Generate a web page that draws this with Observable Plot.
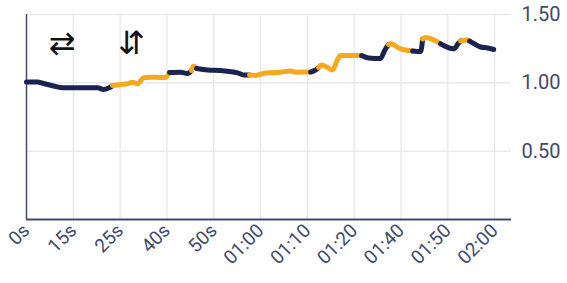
<!DOCTYPE html>
<html>
<head>
<meta charset="utf-8">
<script src="https://cdn.jsdelivr.net/npm/d3@7"></script>
<script src="https://cdn.jsdelivr.net/npm/@observablehq/plot@0.6"></script>
<style>
  html, body { margin: 0; padding: 0; background: #fff; }
  #chart { width: 567px; height: 283px; }
</style>
</head>
<body>
<div id="chart"></div>
<script>
// x positions are in tick-index units (ticks are evenly spaced in the chart)
const tickLabels = ["0s","15s","25s","40s","50s","01:00","01:10","01:20","01:40","01:50","02:00"];
const yTicks = [0.5, 1.0, 1.5];
const icons = ["⇄", "⇵"];
const iconPos = [0.76, 2.24];

// each segment of the price line, alternating colours
const segTimes = [
  [0,0.235,0.363,0.577,0.791,1.154,1.517,1.645,1.752,1.838],
  [1.838,2.009,2.158,2.265,2.372,2.5,2.65,2.863,2.97,3.056],
  [3.056,3.291,3.44,3.526],
  [3.526,3.568,3.632],
  [3.632,3.868,4.145,4.509,4.637,4.765],
  [4.765,4.893,5.107,5.427,5.641,5.748,6.068],
  [6.068,6.154,6.239],
  [6.239,6.303,6.432,6.538,6.645,6.709,7.158],
  [7.158,7.308,7.564,7.65,7.735],
  [7.735,7.778,7.991,8.248],
  [8.248,8.419,8.462],
  [8.462,8.526,8.846],
  [8.846,8.91,9.124,9.231,9.274],
  [9.274,9.423,9.466],
  [9.466,9.573,9.701,9.85,9.979]
];
const segValues = [
  [1.006,1.006,0.995,0.977,0.964,0.964,0.964,0.951,0.962,0.98],
  [0.98,0.988,0.993,1.005,0.993,1.037,1.041,1.039,1.039,1.076],
  [1.076,1.078,1.068,1.09],
  [1.09,1.123,1.105],
  [1.105,1.094,1.09,1.073,1.057,1.057],
  [1.057,1.054,1.072,1.078,1.087,1.078,1.079],
  [1.079,1.09,1.112],
  [1.112,1.13,1.112,1.094,1.171,1.2,1.2],
  [1.2,1.182,1.178,1.237,1.28],
  [1.28,1.286,1.248,1.233],
  [1.233,1.229,1.321],
  [1.321,1.332,1.286],
  [1.286,1.273,1.249,1.291,1.306],
  [1.306,1.313,1.306],
  [1.306,1.284,1.262,1.255,1.244]
];
const segSide = ["a","b","a","b","a","b","a","b","a","b","a","b","a","b","a"];

const NAVY = "#1b2350";
const ORANGE = "#f7a91d";
const AXIS = "#414a6b";

const rows = [];
segTimes.forEach((ts, s) => ts.forEach((t, i) => rows.push({t, v: segValues[s][i], seg: s, side: segSide[s]})));

const chart = Plot.plot({
  width: 567,
  height: 283,
  marginLeft: 26,
  marginRight: 56,
  marginTop: 14,
  marginBottom: 64,
  style: {fontFamily: "Roboto, sans-serif", color: AXIS, background: "#fff"},
  x: {domain: [0, 10.36]},
  y: {domain: [0, 1.5]},
  color: {domain: ["a","b"], range: [NAVY, ORANGE]},
  marks: [
    Plot.gridX(d3.range(1, tickLabels.length), {stroke: "#e4e5ea", strokeOpacity: 1, strokeWidth: 1.2}),
    Plot.gridY(yTicks, {stroke: "#e4e5ea", strokeOpacity: 1, strokeWidth: 1.2}),
    Plot.axisY({anchor: "right", ticks: yTicks, tickFormat: d3.format(".2f"), tickSize: 0, tickPadding: 10, fontSize: 20, label: null, fill: AXIS}),
    Plot.axisX({ticks: d3.range(tickLabels.length), tickFormat: i => tickLabels[i], tickRotate: -45, tickSize: 0, tickPadding: 8, fontSize: 19, label: null, fill: AXIS}),
    Plot.ruleX([0], {stroke: AXIS, strokeWidth: 1.5}),
    Plot.ruleY([0], {stroke: AXIS, strokeWidth: 2}),
    Plot.line(rows, {x: "t", y: "v", z: "seg", stroke: "side", strokeWidth: 5, curve: "monotone-x", strokeLinejoin: "round"}),
    Plot.text(icons, {x: (d, i) => iconPos[i], frameAnchor: "top", dy: 17, text: d => d, fontSize: 32, fill: "#111", fontFamily: "DejaVu Sans"})
  ]
});
document.getElementById("chart").appendChild(chart);
</script>
</body>
</html>
